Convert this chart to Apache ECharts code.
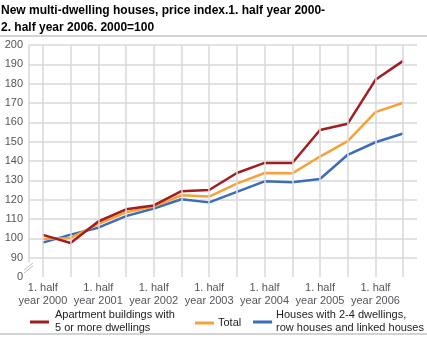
<!DOCTYPE html>
<html>
<head>
<meta charset="utf-8">
<script src="https://cdn.jsdelivr.net/npm/echarts@6/dist/echarts.min.js"></script>
<style>
  html, body { margin: 0; padding: 0; background: #fff; }
  #chart { width: 427px; height: 339px; }
</style>
</head>
<body>
<div id="chart"></div>
<script>
// Half-year periods, 2000 H1 .. 2006 H2
const categories = [
  '1. half\nyear 2000', '2. half\nyear 2000',
  '1. half\nyear 2001', '2. half\nyear 2001',
  '1. half\nyear 2002', '2. half\nyear 2002',
  '1. half\nyear 2003', '2. half\nyear 2003',
  '1. half\nyear 2004', '2. half\nyear 2004',
  '1. half\nyear 2005', '2. half\nyear 2005',
  '1. half\nyear 2006', '2. half\nyear 2006'
];

// Price index, 2000 = 100
const apartments  = [101.8, 97.6, 108.7, 115.0, 117.0, 124.4, 125.0, 133.8, 139.0, 139.0, 156.0, 159.3, 182.0, 191.8];
const total       = [99.6, 100.2, 107.3, 113.5, 116.4, 122.3, 121.6, 128.3, 133.8, 133.6, 142.3, 150.3, 165.3, 170.1];
const smallHouses = [97.8, 101.9, 105.5, 111.5, 115.4, 120.2, 118.6, 124.0, 129.5, 129.0, 130.7, 143.2, 149.7, 154.2];

const titleText = 'New multi-dwelling houses, price index.1. half year 2000-\n2. half year 2006. 2000=100';
const seriesNames = [
  'Apartment buildings with\n5 or more dwellings',
  'Total',
  'Houses with 2-4 dwellings,\nrow houses and linked houses'
];
const colors = ['#a01e22', '#f7a13c', '#3d6cb8'];

// Broken value axis: the lowest tick stands in for zero
const yMin = 80, yMax = 200, yStep = 10;
const brokenTickLabel = '0';

const gridColor = '#d8d8d8';

const chart = echarts.init(document.getElementById('chart'));
chart.setOption({
  animation: false,
  grid: { left: 29, right: 10, top: 45, bottom: 62 },
  xAxis: {
    type: 'category', data: categories, boundaryGap: true,
    axisLine: { show: false }, axisTick: { show: false }, splitLine: { show: false },
    axisLabel: { interval: 1, margin: 4, fontSize: 11, lineHeight: 13 }
  },
  yAxis: {
    type: 'value', min: yMin, max: yMax, interval: yStep,
    axisLine: { show: false }, axisTick: { show: false },
    splitLine: { show: true, showMinLine: false, lineStyle: { color: gridColor, width: 1.5 } },
    axisLabel: { margin: 6, fontSize: 11, formatter: function (v) { return v === yMin ? brokenTickLabel : String(v); } }
  },
  series: [
    {
      name: seriesNames[2], type: 'line', data: smallHouses, symbol: 'none',
      lineStyle: { color: colors[2], width: 2.5 }, itemStyle: { color: colors[2] },
      // vertical grid lines at each half-year
      markLine: {
        silent: true, symbol: 'none', label: { show: false },
        lineStyle: { color: gridColor, width: 1.5, type: 'solid' },
        data: categories.map(function (c, i) { return { xAxis: i }; })
      }
    },
    {
      name: seriesNames[1], type: 'line', data: total, symbol: 'none',
      lineStyle: { color: colors[1], width: 2.5 }, itemStyle: { color: colors[1] }
    },
    {
      name: seriesNames[0], type: 'line', data: apartments, symbol: 'none',
      lineStyle: { color: colors[0], width: 2.5 }, itemStyle: { color: colors[0] }
    }
  ]
});

// Title, legend keys, frame lines, left axis line and the axis-break marks
const W = chart.getWidth();
const H = chart.getHeight();
const c0 = chart.convertToPixel({ xAxisIndex: 0 }, 0);
const c1 = chart.convertToPixel({ xAxisIndex: 0 }, 1);
const x0 = c0 - (c1 - c0) / 2;
const yTop = chart.convertToPixel({ yAxisIndex: 0 }, yMax);
const yAxisEnd = chart.convertToPixel({ yAxisIndex: 0 }, 87.5);
const yBreak = chart.convertToPixel({ yAxisIndex: 0 }, 85.2);
const breakStyle = { stroke: '#bdbdbd', lineWidth: 1 };

const legendKeys = [
  { x: 30, y: 322, textX: 55 },
  { x: 195, y: 323, textX: 218 },
  { x: 253, y: 322, textX: 276 }
];
const els = [
  { type: 'text', silent: true, x: 1, y: 2,
    style: { text: titleText, font: 'bold 12px sans-serif', fill: '#000', verticalAlign: 'top', lineHeight: 17 } },
  { type: 'line', silent: true, shape: { x1: 0, y1: 36, x2: W, y2: 36 }, style: { stroke: '#c4c4c4', lineWidth: 1.5 } },
  { type: 'line', silent: true, shape: { x1: 0, y1: H - 5, x2: W, y2: H - 5 }, style: { stroke: '#c4c4c4', lineWidth: 1.5 } },
  { type: 'line', silent: true, shape: { x1: x0, y1: yTop, x2: x0, y2: yAxisEnd }, style: { stroke: gridColor, lineWidth: 1.5 } },
  { type: 'line', silent: true, shape: { x1: x0 - 5, y1: yBreak + 3, x2: x0 + 4, y2: yBreak - 4 }, style: breakStyle },
  { type: 'line', silent: true, shape: { x1: x0 - 5, y1: yBreak + 6, x2: x0 + 4, y2: yBreak - 1 }, style: breakStyle }
];
legendKeys.forEach(function (k, i) {
  els.push({ type: 'rect', silent: true, shape: { x: k.x, y: k.y - 1.5, width: 19, height: 3 }, style: { fill: colors[i] } });
  els.push({ type: 'text', silent: true, x: k.textX, y: k.y - 0.5,
    style: { text: seriesNames[i], font: '11px sans-serif', fill: '#222', verticalAlign: 'middle', lineHeight: 13.5 } });
});
chart.setOption({ graphic: els });
</script>
</body>
</html>
